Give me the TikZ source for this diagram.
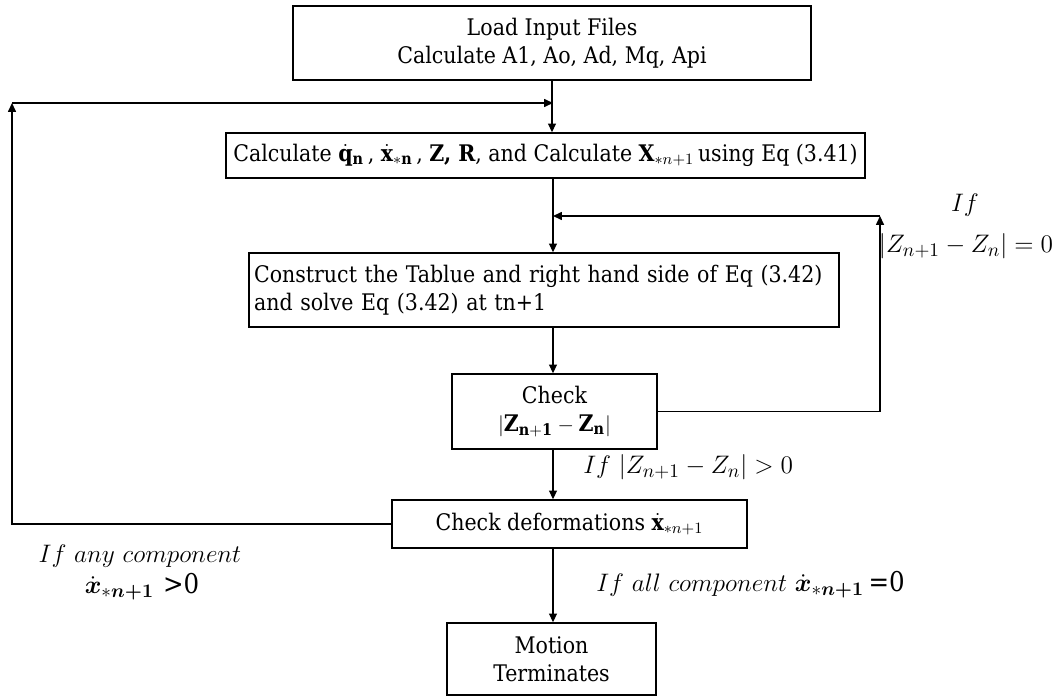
\documentclass[tikz,border=0pt]{standalone}
\usepackage{amsmath}
\usepackage{amssymb}
\usepackage{fontspec}
\setmainfont{DejaVu Serif Condensed}
\usetikzlibrary{arrows.meta}

\begin{document}
\begin{tikzpicture}[
        x=0.02cm, y=-0.02cm,
        font=\fontsize{13}{16}\selectfont,
        stepbox/.style={draw, line width=0.8pt, inner sep=2pt, align=center},
        link/.style={line width=0.7pt, -{Triangle[length=5pt,width=4.5pt]}},
        cond/.style={inner sep=0pt, font=\fontsize{15.5}{18}\selectfont}
    ]
        \useasboundingbox (0,0) rectangle (1055,696);

        \node[stepbox, minimum width=10.36cm, minimum height=1.48cm] (load) at (552,43)
            {Load Input Files\\ Calculate A1, Ao, Ad, Mq, Api};
        \node[stepbox, minimum width=12.78cm, minimum height=0.9cm] (calc) at (545.5,155.5)
            {Calculate $\dot{\mathbf{q}}_{\mathbf{n}}$\,, $\dot{\mathbf{x}}_{*\mathbf{n}}$\,, \textbf{Z, R}, and Calculate $\mathbf{X}_{*n+1}$\,using Eq (3.41)};
        \node[stepbox, inner xsep=0.1cm, minimum height=1.48cm, text width=11.6cm, align=left] (tab) at (544,290)
            {Construct the Tablue and right hand side of Eq (3.42)\\ and solve Eq (3.42) at tn+1};
        \node[stepbox, minimum width=4.1cm, minimum height=1.5cm] (check) at (554.5,411.5)
            {Check\\ $|\mathbf{Z_{n+1}}-\mathbf{Z_{n}}|$};
        \node[stepbox, minimum width=7.1cm, minimum height=0.96cm] (deform) at (569.5,524)
            {Check deformations $\dot{\mathbf{x}}_{*n+1}$};
        \node[stepbox, minimum width=4.18cm, minimum height=1.44cm] (motion) at (551.5,659)
            {Motion\\ Terminates};

        \coordinate (joinA) at (553,103);
        \coordinate (joinB) at (553,216);
        \coordinate (cornerL) at (12,103);
        \coordinate (cornerR) at (880,216);

        \draw[link] (load.south) -- (load.south |- calc.north);
        \draw[link] (joinA |- calc.south) -- (joinA |- tab.north);
        \draw[link] (joinA |- tab.south) -- (joinA |- check.north);
        \draw[link] (joinA |- check.south) -- (joinA |- deform.north);
        \draw[link] (joinA |- deform.south) -- (joinA |- motion.north);

        \draw[link] (check.east) -| (cornerR);
        \draw[link] (cornerR) -- (joinB);
        \draw[link] (deform.west) -| (cornerL);
        \draw[link] (cornerL) -- (joinA);

        \node[cond] (ifeq) at (965,205) {$If$};
        \node[cond] (eqzero) at (966,246) {$|Z_{n+1}-Z_{n}|=0$};
        \node[cond, anchor=west] (gtzero) at (583,467) {$If\ |Z_{n+1}-Z_{n}|>0$};
        \node[cond] (anycomp) at (140,556) {$If\ any\ component$};
        \node[cond] (anyval) at (142,587) {$\dot{\boldsymbol{x}}_{*\boldsymbol{n+1}}$\,\,>0};
        \node[cond, anchor=west] (allcomp) at (596,585) {$If\ all\ component\ \dot{\boldsymbol{x}}_{*\boldsymbol{n+1}}$\,=0};
\end{tikzpicture}
\end{document}
